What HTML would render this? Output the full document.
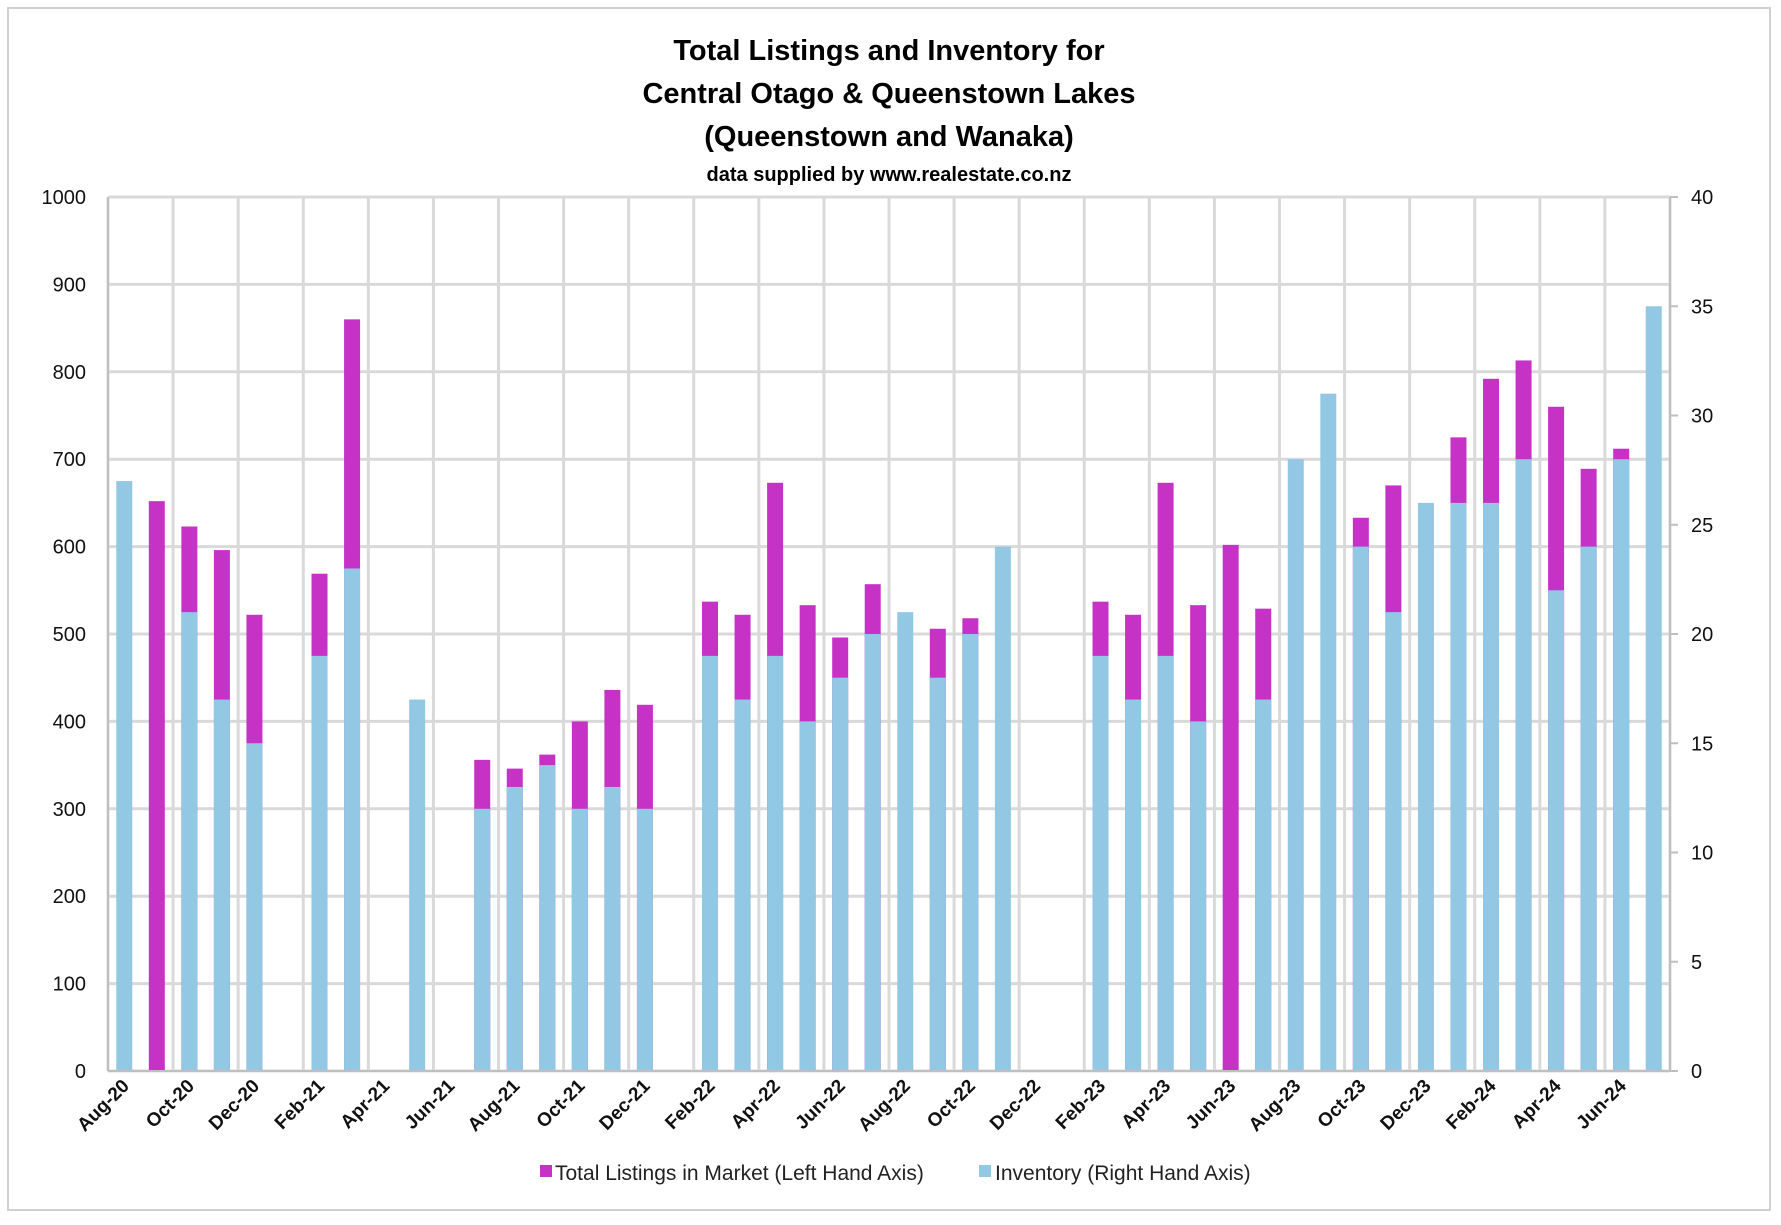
<!DOCTYPE html>
<html><head><meta charset="utf-8"><style>
body{margin:0;background:#fff}
svg text{font-family:"Liberation Sans",sans-serif}
</style></head><body>
<svg id="chart" width="1781" height="1220" xmlns="http://www.w3.org/2000/svg">
<rect x="8" y="8" width="1762" height="1202" fill="#fff" stroke="#d0d0d0" stroke-width="2"/>
<g font-weight="bold" text-anchor="middle" fill="#000">
<text x="889" y="60" font-size="29">Total Listings and Inventory for</text>
<text x="889" y="103" font-size="29">Central Otago &amp; Queenstown Lakes</text>
<text x="889" y="146" font-size="29">(Queenstown and Wanaka)</text>
<text x="889" y="181" font-size="20">data supplied by www.realestate.co.nz</text>
</g>
<g id="grid"></g><g id="bars"></g><g id="axes"></g>
<g font-size="21" fill="#222">
<rect x="540" y="1165" width="12" height="12" fill="#C632C6"/>
<text x="555" y="1180">Total Listings in Market (Left Hand Axis)</text>
<rect x="979" y="1165" width="12" height="12" fill="#92C8E4"/>
<text x="995" y="1180">Inventory (Right Hand Axis)</text>
</g>
</svg>
<script>
const categories=["Aug-20","Sep-20","Oct-20","Nov-20","Dec-20","Jan-21","Feb-21","Mar-21","Apr-21","May-21","Jun-21","Jul-21","Aug-21","Sep-21","Oct-21","Nov-21","Dec-21","Jan-22","Feb-22","Mar-22","Apr-22","May-22","Jun-22","Jul-22","Aug-22","Sep-22","Oct-22","Nov-22","Dec-22","Jan-23","Feb-23","Mar-23","Apr-23","May-23","Jun-23","Jul-23","Aug-23","Sep-23","Oct-23","Nov-23","Dec-23","Jan-24","Feb-24","Mar-24","Apr-24","May-24","Jun-24","Jul-24"];
const listings=[null,652,623,596,522,null,569,860,null,null,null,356,346,362,400,436,419,null,537,522,673,533,496,557,null,506,518,null,null,null,537,522,673,533,602,529,null,null,633,670,null,725,792,813,760,689,712,null];
const inventory=[27,null,21,17,15,null,19,23,null,17,null,12,13,14,12,13,12,null,19,17,19,16,18,20,21,18,20,24,null,null,19,17,19,16,null,17,28,31,24,21,26,26,26,28,22,24,28,35];
const leftTicks=[0,100,200,300,400,500,600,700,800,900,1000];
const rightTicks=[0,5,10,15,20,25,30,35,40];
const L=108,R=1670,T=197,B=1071;
const bw=(R-L)/categories.length;
const xC=i=>L+(i+0.5)*bw;
const yL=v=>B-(v/1000)*(B-T);
const yR=v=>B-(v/40)*(B-T);
const NS="http://www.w3.org/2000/svg";
function mk(tag,parent,attrs){const e=document.createElementNS(NS,tag);for(const k in attrs)e.setAttribute(k,attrs[k]);parent.appendChild(e);return e;}
const grid=document.getElementById('grid'),bars=document.getElementById('bars'),axes=document.getElementById('axes');
leftTicks.forEach(t=>{
  const l=mk('line',grid,{x1:L,x2:R,y1:yL(t),y2:yL(t),stroke:'#d9d9d9','stroke-width':3});
  
  
  const tx=mk('text',axes,{x:86,y:yL(t)+7,'text-anchor':'end','font-size':20,fill:'#111'});
  tx.textContent=t;
  
  
});
for(let i=0;i<=categories.length;i+=2){
  const l=mk('line',grid,{x1:L+i*bw,x2:L+i*bw,y1:T,y2:B,stroke:'#d9d9d9','stroke-width':3});
  
  
}
listings.forEach((v,i)=>{ if(v==null)return;
  const r=mk('rect',bars,{x:xC(i)-8,y:yL(v),width:16,height:B-yL(v),fill:'#C632C6'});
  
  
});
inventory.forEach((v,i)=>{ if(v==null)return;
  const r=mk('rect',bars,{x:xC(i)-8,y:yR(v),width:16,height:B-yR(v),fill:'#92C8E4'});
  
  
});
rightTicks.forEach(t=>{
  const l=mk('line',axes,{x1:R,x2:R+8,y1:yR(t),y2:yR(t),stroke:'#bfbfbf','stroke-width':2});
  
  
  const tx=mk('text',axes,{x:1691,y:yR(t)+7,'font-size':20,fill:'#111'});
  tx.textContent=t;
  
  
});
const la=mk('line',axes,{x1:L,x2:L,y1:T,y2:B,stroke:'#bfbfbf','stroke-width':2});


const ra=mk('line',axes,{x1:R,x2:R,y1:T,y2:B,stroke:'#bfbfbf','stroke-width':2});


const xa=mk('line',axes,{x1:L,x2:R+8,y1:B,y2:B,stroke:'#bfbfbf','stroke-width':2});


categories.forEach((c,i)=>{ if(i%2)return;
  const x=xC(i)+6,y=B+16;
  const tx=mk('text',axes,{x:x,y:y,'text-anchor':'end','font-size':19,'font-weight':'bold',fill:'#111',transform:`rotate(-45 ${x} ${y})`});
  tx.textContent=c;
  
  
});
</script>
</body></html>
